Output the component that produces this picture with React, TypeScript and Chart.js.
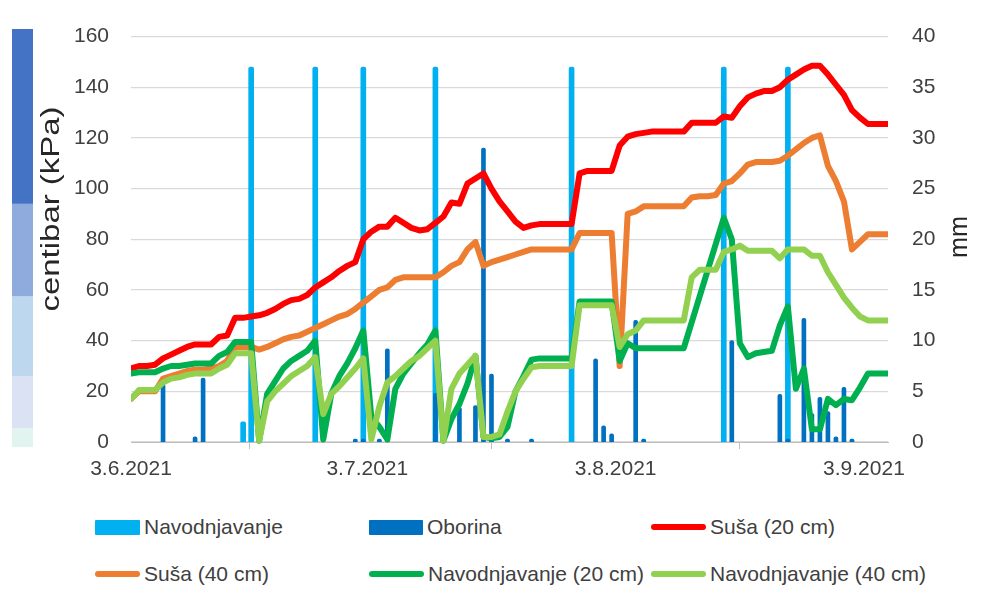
import React, { useEffect, useRef } from 'react';
import { Chart, registerables } from 'chart.js';

Chart.register(...registerables);

const FONT = '"Liberation Sans", Arial, sans-serif';
const TEXT = '#404040';

// ---- data (one value per day, starting 3.6.2021) ----
const startDate = [2021, 6, 3];
const tickLabels = ['3.6.2021', '3.7.2021', '3.8.2021', '3.9.2021'];

const susa20 = [
  29, 30, 30, 30.5, 33, 34.5, 36, 37.5, 38.5, 38.5,
  38.5, 41.5, 42, 49, 49, 49.5, 50, 51, 52.5, 54.5,
  56, 56.5, 58, 61, 63, 65, 67.5, 69.5, 71, 80,
  83, 85, 85, 88.5, 86.5, 84.5, 83.5, 84, 86.5, 89,
  94.5, 94, 102, 104, 106, 100, 95, 91, 87, 84.5,
  85.5, 86, 86, 86, 86, 86, 106, 107, 107, 107,
  107, 117, 120.5, 121.5, 122, 122.5, 122.5, 122.5, 122.5, 122.5,
  126, 126, 126, 126, 128.5, 128, 132.5, 136, 137.5, 138.5,
  138.5, 140, 143, 145, 147, 148.5, 148.5, 145, 141, 137,
  131, 128, 125.5, 125.5, 125.5, 125.5,
];

const susa40 = [
  17, 20, 20, 20, 25, 26, 27, 28, 28.5, 28.5,
  29, 30, 32, 37.5, 37.5, 37.5, 36.5, 37.5, 39, 40.5,
  41.5, 42, 43.5, 45, 46.5, 48, 49.5, 50.5, 52.5, 55,
  57.5, 60, 61, 64, 65, 65, 65, 65, 65, 67,
  69.5, 71, 76, 79, 69.5, 71, 72, 73, 74, 75,
  76, 76, 76, 76, 76, 76, 82.5, 82.5, 82.5, 82.5,
  82.5, 30, 90, 91, 93, 93, 93, 93, 93, 93,
  96.5, 97, 97, 97.5, 102, 103, 106, 109.5, 110.5, 110.5,
  110.5, 111, 113, 115.5, 118, 120, 121, 109, 103, 95,
  76, 79, 82, 82, 82, 82,
];

const navod20 = [
  27, 27.5, 27.5, 27.5, 29, 30, 30, 30.5, 31, 31,
  31, 34, 35.5, 39.5, 39.5, 39.5, 0.5, 19, 24, 29,
  32, 34, 36, 40, 1, 19, 26, 31, 37, 44,
  10, 6, 1, 21, 27, 31, 35, 38.5, 44, 0.5,
  9, 15, 23, 34, 2, 1.5, 2, 6, 20, 26,
  32.5, 33, 33, 33, 33, 33, 55.5, 55.5, 55.5, 55.5,
  55.5, 32, 39, 37, 37, 37, 37, 37, 37, 37,
  null, null, null, null, 88.5, 80, 39, 33.5, 35, 35.5,
  36, 46, 53.5, 21, 29, 5, 5, 17, 14.5, 17,
  16.5, 21.5, 27, 27, 27, 27,
];

const navod40 = [
  17, 20.5, 20.5, 20.5, 23.5, 25, 25.5, 26.5, 27, 27,
  27, 29, 30.5, 35, 35, 35, 0.5, 16, 20, 23,
  26, 28, 30, 33.5, 11, 19, 22, 25.5, 29, 33,
  1, 14, 23.5, 26, 29, 32, 34, 37, 40, 0.5,
  21, 27, 30.5, 34, 2, 2, 3, 12, 20, 25,
  29.5, 30, 30, 30, 30, 30, 54, 54, 54, 54,
  54, 37.5, 42.5, 44, 48, 48, 48, 48, 48, 48,
  65, 68, 68, 68, 75, 76, 77.5, 75.5, 75.5, 75.5,
  75.5, 72.5, 76, 76, 76, 73.5, 73.5, 67, 62, 57,
  53, 49.5, 48, 48, 48, 48,
];

// bars (mm), by day offset from 3.6.2021
const irrigationDays = [14, 15, 23, 29, 38, 55, 74, 82];
const irrigationMm = [2, 37, 37, 37, 37, 37, 37, 37];
const rainDays = [4, 8, 9, 28, 29, 31, 32, 38, 41, 43, 44, 45, 47, 50, 58, 59, 60, 63, 64, 75, 81, 82, 84, 85, 86, 87, 88, 89, 90];
const rainMm = [5.7, 0.5, 6.3, 0.3, 0.3, 0.3, 9.2, 4.8, 3.4, 3.6, 29, 6.7, 0.3, 0.3, 8.2, 1.6, 0.8, 12, 0.3, 10, 4.7, 0.3, 12.2, 2.8, 4.4, 3, 0.5, 5.4, 0.3];

// left colour scale strip (kPa band edges) and colours
const bandEdges = [-2, 5.5, 26, 57.5, 94, 163];
const bandColors = ['#E2F4EF', '#DAE2F3', '#BDD7EE', '#8FAADC', '#4472C4'];

const COLORS = {
  irrigation: '#00B0F0',
  rain: '#0070C0',
  susa20: '#FF0000',
  susa40: '#ED7D31',
  navod20: '#00B050',
  navod40: '#92D050',
};

// ---- helpers ----
const dayOffset = (label: string) => {
  const [d, m, y] = label.split('.').map(Number);
  const a = Date.UTC(startDate[0], startDate[1] - 1, startDate[2]);
  const b = Date.UTC(y, m - 1, d);
  return Math.round((b - a) / 86400000);
};
const toPoints = (arr: (number | null)[]) => arr.map((v, i) => ({ x: i, y: v }));
const toBarPoints = (days: number[], vals: number[]) => days.map((d, i) => ({ x: d, y: vals[i] }));

const drawTitle = (ctx: any, text: string, cx: number, cy: number, size: number, length: number) => {
  ctx.save();
  ctx.fillStyle = '#262626';
  ctx.font = `${size}px ${FONT}`;
  ctx.textAlign = 'center';
  ctx.textBaseline = 'middle';
  ctx.translate(cx, cy);
  ctx.rotate(-Math.PI / 2);
  const w = ctx.measureText(text).width;
  ctx.scale(length / w, 1);
  ctx.fillText(text, 0, 0);
  ctx.restore();
};

const decorPlugin = {
  id: 'decor',
  afterDraw(chart: any) {
    const { ctx } = chart;
    const y = chart.scales.y;
    ctx.save();
    for (let i = 0; i < bandColors.length; i++) {
      const yTop = y.getPixelForValue(bandEdges[i + 1]);
      const yBot = y.getPixelForValue(bandEdges[i]);
      ctx.fillStyle = bandColors[i];
      ctx.fillRect(12, yTop, 21, yBot - yTop);
    }
    ctx.restore();
    drawTitle(ctx, 'centibar (kPa)', 52, 209, 26, 205);
    drawTitle(ctx, 'mm', 960, 237, 25, 42);
  },
};

const lineDs = (label: string, data: (number | null)[], color: string, order: number, spanGaps = false) => ({
  type: 'line' as const,
  label,
  data: toPoints(data),
  borderColor: color,
  backgroundColor: color,
  borderWidth: 6,
  pointRadius: 0,
  tension: 0,
  borderJoinStyle: 'round' as const,
  borderCapStyle: 'round' as const,
  yAxisID: 'y',
  order,
  spanGaps,
  clip: { left: 0, right: 0, top: 6, bottom: 3 },
});

const legendItems = [
  { label: 'Navodnjavanje', color: COLORS.irrigation, kind: 'bar', x: 95, w: 45, row: 0 },
  { label: 'Oborina', color: COLORS.rain, kind: 'bar', x: 369, w: 54, row: 0 },
  { label: 'Suša (20 cm)', color: COLORS.susa20, kind: 'line', x: 651, w: 55, row: 0 },
  { label: 'Suša (40 cm)', color: COLORS.susa40, kind: 'line', x: 95, w: 45, row: 1 },
  { label: 'Navodnjavanje (20 cm)', color: COLORS.navod20, kind: 'line', x: 369, w: 55, row: 1 },
  { label: 'Navodnjavanje (40 cm)', color: COLORS.navod40, kind: 'line', x: 651, w: 55, row: 1 },
];
const legendRows = [527, 574];

export default function App() {
  const ref = useRef<HTMLCanvasElement>(null);

  useEffect(() => {
    const tickValues = tickLabels.map((l) => Math.max(0, dayOffset(l) - 0.5));
    const chart = new Chart(ref.current as HTMLCanvasElement, {
      type: 'bar',
      data: {
        datasets: [
          lineDs('Suša (20 cm)', susa20, COLORS.susa20, 8),
          lineDs('Suša (40 cm)', susa40, COLORS.susa40, 7),
          lineDs('Navodnjavanje (20 cm)', navod20, COLORS.navod20, 6, true),
          lineDs('Navodnjavanje (40 cm)', navod40, COLORS.navod40, 5),
          {
            type: 'bar',
            label: 'Navodnjavanje',
            data: toBarPoints(irrigationDays, irrigationMm),
            backgroundColor: COLORS.irrigation,
            barThickness: 5,
            borderRadius: { topLeft: 2, topRight: 2 },
            borderSkipped: 'bottom',
            grouped: false,
            yAxisID: 'y1',
            order: 10,
          } as any,
          {
            type: 'bar',
            label: 'Oborina',
            data: toBarPoints(rainDays, rainMm),
            backgroundColor: COLORS.rain,
            barThickness: 4,
            borderRadius: { topLeft: 2, topRight: 2 },
            borderSkipped: 'bottom',
            grouped: false,
            yAxisID: 'y1',
            order: 9,
          } as any,
        ],
      },
      options: {
        responsive: false,
        animation: false,
        events: [],
        layout: { padding: { top: 35, left: 0, right: 0, bottom: 0 } },
        plugins: {
          legend: { display: false },
          tooltip: { enabled: false },
          title: { display: false },
        },
        scales: {
          x: {
            type: 'linear',
            min: 0,
            max: 94.5,
            offset: false,
            afterBuildTicks: (scale: any) => {
              scale.ticks = tickValues.map((v) => ({ value: v }));
            },
            afterFit: (scale: any) => {
              scale.height = 58;
            },
            ticks: {
              autoSkip: false,
              maxRotation: 0,
              padding: 8,
              color: TEXT,
              font: { family: FONT, size: 21 },
              callback: (_v: any, i: number) => tickLabels[i],
            },
            grid: {
              display: true,
              drawOnChartArea: false,
              drawTicks: true,
              tickLength: 7,
              color: '#BFBFBF',
              lineWidth: 1,
            },
            border: { display: true, color: '#BFBFBF', width: 1 },
          },
          y: {
            position: 'left',
            min: 0,
            max: 160,
            afterFit: (scale: any) => {
              scale.width = 131;
            },
            ticks: {
              stepSize: 20,
              padding: 22,
              color: TEXT,
              font: { family: FONT, size: 21 },
            },
            grid: { color: '#D9D9D9', lineWidth: 1.3, drawTicks: false },
            border: { display: false },
          },
          y1: {
            position: 'right',
            min: 0,
            max: 40,
            afterFit: (scale: any) => {
              scale.width = 105;
            },
            ticks: {
              stepSize: 5,
              padding: 24,
              color: TEXT,
              font: { family: FONT, size: 21 },
            },
            grid: { display: false, drawOnChartArea: false, drawTicks: false },
            border: { display: false },
          },
        },
      } as any,
      plugins: [decorPlugin],
    });
    return () => chart.destroy();
  }, []);

  return (
    <div
      style={{
        position: 'absolute',
        left: 0,
        top: 0,
        width: 993,
        height: 597,
        background: '#ffffff',
        fontFamily: FONT,
        overflow: 'hidden',
      }}
    >
      <canvas ref={ref} width={993} height={500} style={{ display: 'block', width: 993, height: 500 }} />
      {legendItems.map((it) => (
        <div
          key={it.label}
          style={{
            position: 'absolute',
            left: it.x,
            top: legendRows[it.row] - 13,
            height: 26,
            display: 'flex',
            alignItems: 'center',
            whiteSpace: 'nowrap',
          }}
        >
          <span
            style={{
              display: 'inline-block',
              width: it.w,
              height: it.kind === 'bar' ? 15 : 6,
              background: it.color,
              borderRadius: it.kind === 'bar' ? 1 : 3,
            }}
          />
          <span style={{ marginLeft: 4, fontSize: 21, color: TEXT }}>{it.label}</span>
        </div>
      ))}
    </div>
  );
}
